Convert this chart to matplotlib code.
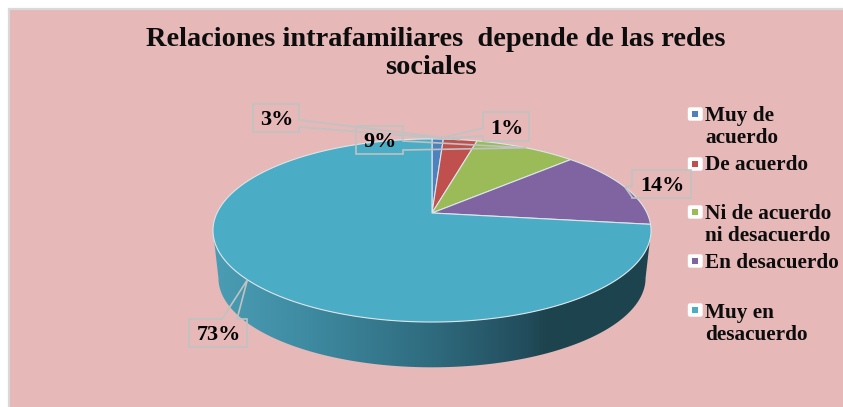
import numpy as np
import matplotlib
matplotlib.use("Agg")
import matplotlib.pyplot as plt
from matplotlib.patches import Polygon, Rectangle, FancyBboxPatch
from matplotlib.colors import LinearSegmentedColormap

categories = ["Muy de\nacuerdo", "De acuerdo", "Ni de acuerdo\nni desacuerdo", "En desacuerdo", "Muy en\ndesacuerdo"]
values = [1, 3, 9, 14, 73]
labels = ["1%", "3%", "9%", "14%", "73%"]
colors = ["#4F81BD", "#C0504D", "#9BBB59", "#8064A2", "#4BACC6"]

BG = "#E6B8B7"
LINE = "#BFC3C3"
CX, CY, A, PV, C = 432.0, 213.0, 215.0, 88.2, 0.191
DEPTH, SHRINK = 48.0, 0.975
FONT = "Liberation Serif"


def project(frac, shrink=1.0, dy=0.0):
    """Perspective projection of a pie fraction (clockwise from 12 o'clock)."""
    th = 2 * np.pi * np.asarray(frac, dtype=float)
    u, v = np.sin(th), np.cos(th)
    d = 1 + C * v
    return np.column_stack([CX + shrink * A * u / d, CY - PV * v / d * shrink + dy])


fig = plt.figure(figsize=(8.43, 4.07), dpi=100, facecolor="white")
ax = fig.add_axes([0, 0, 1, 1])
ax.set_xlim(0, 843)
ax.set_ylim(407, 0)
ax.axis("off")

ax.add_patch(Rectangle((9, 8.5), 850, 410, fc=BG, ec="#D9D9D9", lw=1.6, zorder=0))

# side wall: between the widest points of the rim
widest = np.arccos(-C) / (2 * np.pi)
fr = np.linspace(widest, 1 - widest, 300)
top = project(fr)
bot = project(fr, SHRINK, DEPTH)
wall = np.vstack([top, bot[::-1]])
cmap = LinearSegmentedColormap.from_list(
    "wall",
    [(0, "#4A9DB4"), (0.2, "#3F8CA3"), (0.5, "#2F6B7E"), (0.72, "#224C5C"), (0.76, "#1D444E"), (1, "#1D444E")],
)
grad = np.linspace(0, 1, 512).reshape(1, -1)
im = ax.imshow(grad, extent=[213, 651, 407, 0], cmap=cmap, aspect="auto", zorder=1)
ax.set_xlim(0, 843)
ax.set_ylim(407, 0)
clip = Polygon(wall, closed=True, transform=ax.transData, fc="none", ec="none")
ax.add_patch(clip)
im.set_clip_path(clip)

# top wedges
edges = np.cumsum([0] + values) / sum(values)
for i, col in enumerate(colors):
    n = max(int(values[i] * 6), 8)
    arc = project(np.linspace(edges[i], edges[i + 1], n))
    ax.add_patch(Polygon(np.vstack([[CX, CY], arc]), closed=True, fc=col, ec="#DCE6EA",
                         lw=0.8, zorder=2, joinstyle="round"))

# callout labels: box (x0, y0, x1, y1), side of pointer base
boxes = {
    "1%": (483, 112, 529, 141, "l", 128, 136),
    "3%": (253, 104, 299, 132, "r", 120, 127),
    "9%": (356, 126, 403, 154, "r", 141, 150),
    "14%": (632, 170, 691, 198, "l", 186, 197),
    "73%": (189, 319, 247, 347, "t", 222, 237),
}
mids = (edges[:-1] + edges[1:]) / 2
for lab, m in zip(labels, mids):
    x0, y0, x1, y1, side, b0, b1 = boxes[lab]
    tip = project([m])[0]
    if side == "l":
        pts = [(x0, y0), (x1, y0), (x1, y1), (x0, y1), (x0, b1), tip, (x0, b0)]
    elif side == "r":
        pts = [(x0, y0), (x1, y0), (x1, b0), tip, (x1, b1), (x1, y1), (x0, y1)]
    else:
        pts = [(x0, y0), (b0, y0), tip, (b1, y0), (x1, y0), (x1, y1), (x0, y1)]
    ax.add_patch(Polygon(pts, closed=True, fc="none", ec=LINE, lw=1.2, zorder=3))
    ax.text((x0 + x1) / 2 + 0.5, (y0 + y1) / 2 + 2, lab, ha="center", va="center", family=FONT,
            weight="bold", fontsize=16, color="black", zorder=4)

# title
ax.text(436, 46, "Relaciones intrafamiliares  depende de las redes", ha="center", va="baseline",
        family=FONT, weight="bold", fontsize=20.4, color="#0D0D0D")
ax.text(431, 74.5, "sociales", ha="center", va="baseline",
        family=FONT, weight="bold", fontsize=20.4, color="#0D0D0D")

# legend
leg_y = [114, 164, 212, 261, 310]
text_y = [127, 165.5, 225, 263, 324]
for name, col, ly, ty in zip(categories, colors, leg_y, text_y):
    ax.add_patch(FancyBboxPatch((689, ly - 5.5), 12.5, 11, boxstyle="round,pad=1.2,rounding_size=2",
                                fc="white", ec="none", zorder=2))
    ax.add_patch(Rectangle((692, ly - 3), 5.8, 5.8, fc=col, ec="none", zorder=3))
    ax.text(705, ty, name, ha="left", va="center", family=FONT, weight="bold", fontsize=15.3,
            linespacing=1.1, color="#0D0D0D", zorder=3)

fig.savefig("out.png", dpi=100, facecolor="white")
